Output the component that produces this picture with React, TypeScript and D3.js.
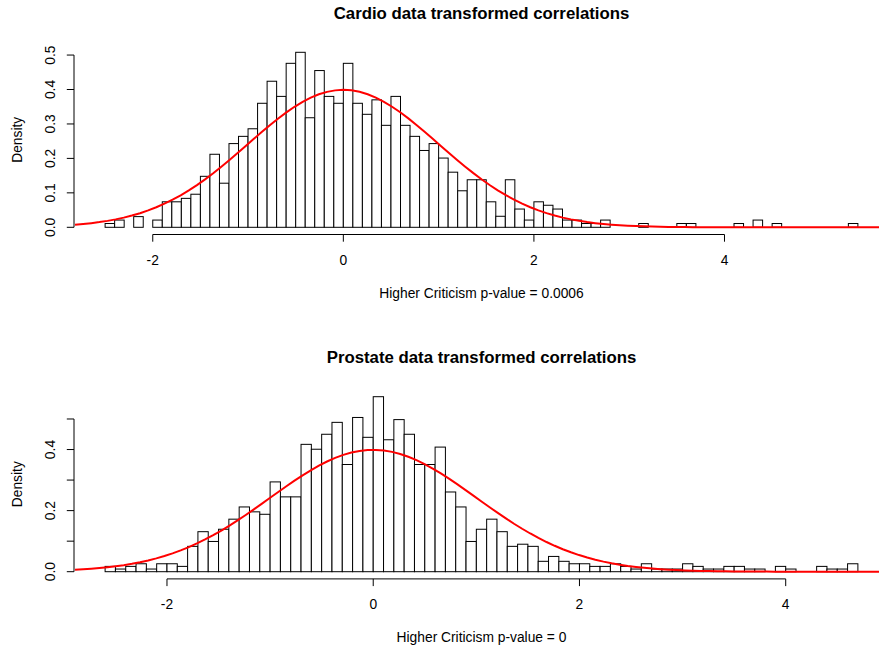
import React from "react";
import * as d3 from "d3";

// histogram densities, bin width 0.1
const binWidth = 0.1;

const cardioStart = -2.5;
const cardioDensity = [
  0.011, 0.021, 0, 0.031, 0, 0.021, 0.074, 0.074, 0.084, 0.096,
  0.148, 0.212, 0.128, 0.243, 0.264, 0.286, 0.36, 0.424, 0.38, 0.476,
  0.508, 0.318, 0.455, 0.38, 0.36, 0.476, 0.36, 0.328, 0.37, 0.296,
  0.38, 0.296, 0.264, 0.223, 0.243, 0.201, 0.16, 0.106, 0.138, 0.138,
  0.074, 0.032, 0.138, 0.053, 0.021, 0.074, 0.064, 0.053, 0.021, 0.021,
  0.011, 0.011, 0.021, 0, 0, 0, 0.011, 0, 0, 0,
  0.011, 0.011, 0, 0, 0, 0, 0.011, 0, 0.021, 0,
  0.011, 0, 0, 0, 0, 0, 0, 0, 0.011,
];

const prostateStart = -2.6;
const prostateDensity = [
  0.0174, 0.0087, 0.0174, 0.026, 0.0087, 0.026, 0.026, 0.0174, 0.083, 0.131,
  0.099, 0.139, 0.172, 0.212, 0.196, 0.188, 0.294, 0.245, 0.245, 0.417,
  0.401, 0.45, 0.489, 0.351, 0.505, 0.44, 0.573, 0.432, 0.498, 0.45,
  0.351, 0.351, 0.408, 0.261, 0.212, 0.099, 0.139, 0.172, 0.131, 0.083,
  0.09, 0.083, 0.034, 0.05, 0.034, 0.026, 0.026, 0.0174, 0.0174, 0.026,
  0.0174, 0.0087, 0.026, 0.0087, 0.0087, 0.0087, 0.026, 0.0174, 0.0087, 0.0087,
  0.0174, 0.0174, 0.0087, 0.0087, 0, 0.0174, 0.0087, 0, 0, 0.0174,
  0.0087, 0.0087, 0.026,
];

const xTicks = [-2, 0, 2, 4];
const yTicks = [0, 0.1, 0.2, 0.3, 0.4, 0.5];
const cardioYLabels = [0, 0.1, 0.2, 0.3, 0.4, 0.5];
const prostateYLabels = [0, 0.2, 0.4];

const font = "'Liberation Sans', Arial, Helvetica, sans-serif";
const fs = 13.8;

function Panel(props) {
  const { top, title, xlab, start, dens, yLabels } = props;
  const n = dens.length;
  const lo = start;
  const hi = start + n * binWidth;
  const pad = (hi - lo) * 0.04;
  const ymax = d3.max(dens);
  const plotL = 75, plotR = 888, plotT = top + 45.3, plotB = top + 234.3;

  const x = d3.scaleLinear().domain([lo - pad, hi + pad]).range([plotL, plotR]);
  const y = d3.scaleLinear().domain([-0.04 * ymax, 1.04 * ymax]).range([plotB, plotT]);

  // standard normal density curve, like curve(dnorm, add = TRUE)
  const xs = d3.range(101).map((i) => (lo - pad) + (i * (hi - lo + 2 * pad)) / 100);
  const line = d3.line()
    .x((d) => x(d))
    .y((d) => y(Math.exp(-d * d / 2) / Math.sqrt(2 * Math.PI)));

  const axisY = y(0) + 7.2;
  const cx = (plotL + plotR) / 2;

  return (
    <g>
      <text x={cx} y={top + 19} textAnchor="middle" fontWeight="bold" fontSize={16.8} fontFamily={font}>
        {title}
      </text>
      {dens.map((d, i) => {
        const x0 = x(start + i * binWidth);
        const x1 = x(start + (i + 1) * binWidth);
        return (
          <rect key={i} x={x0} y={y(d)} width={x1 - x0} height={y(0) - y(d)}
            fill="white" stroke="black" strokeWidth={1} />
        );
      })}
      <path d={line(xs)} fill="none" stroke="#ff0000" strokeWidth={2} />

      {/* x axis */}
      <line x1={x(xTicks[0])} x2={x(xTicks[xTicks.length - 1])} y1={axisY} y2={axisY} stroke="black" />
      {xTicks.map((t) => (
        <g key={t}>
          <line x1={x(t)} x2={x(t)} y1={axisY} y2={axisY + 7.2} stroke="black" />
          <text x={x(t)} y={top + 264.8} textAnchor="middle" fontSize={fs} fontFamily={font}>{t}</text>
        </g>
      ))}
      <text x={cx} y={top + 298} textAnchor="middle" fontSize={fs} fontFamily={font}>{xlab}</text>

      {/* y axis */}
      <line x1={74} x2={74} y1={y(0)} y2={y(0.5)} stroke="black" />
      {yTicks.map((t) => (
        <g key={t}>
          <line x1={74} x2={66.8} y1={y(t)} y2={y(t)} stroke="black" />
          {yLabels.indexOf(t) >= 0 && (
            <text transform={`translate(55,${y(t)}) rotate(-90)`} textAnchor="middle" fontSize={fs} fontFamily={font}>
              {d3.format(".1f")(t)}
            </text>
          )}
        </g>
      ))}
      <text transform={`translate(22,${(plotT + plotB) / 2}) rotate(-90)`} textAnchor="middle" fontSize={fs} fontFamily={font}>
        Density
      </text>
    </g>
  );
}

export default function App() {
  return (
    <svg width={879} height={652} style={{ position: "absolute", left: 0, top: 0, background: "white" }}>
      <rect x={0} y={0} width={879} height={652} fill="white" />
      <Panel top={0} title="Cardio data transformed correlations" xlab="Higher Criticism p-value = 0.0006"
        start={cardioStart} dens={cardioDensity} yLabels={cardioYLabels} />
      <Panel top={344.4} title="Prostate data transformed correlations" xlab="Higher Criticism p-value = 0"
        start={prostateStart} dens={prostateDensity} yLabels={prostateYLabels} />
    </svg>
  );
}
